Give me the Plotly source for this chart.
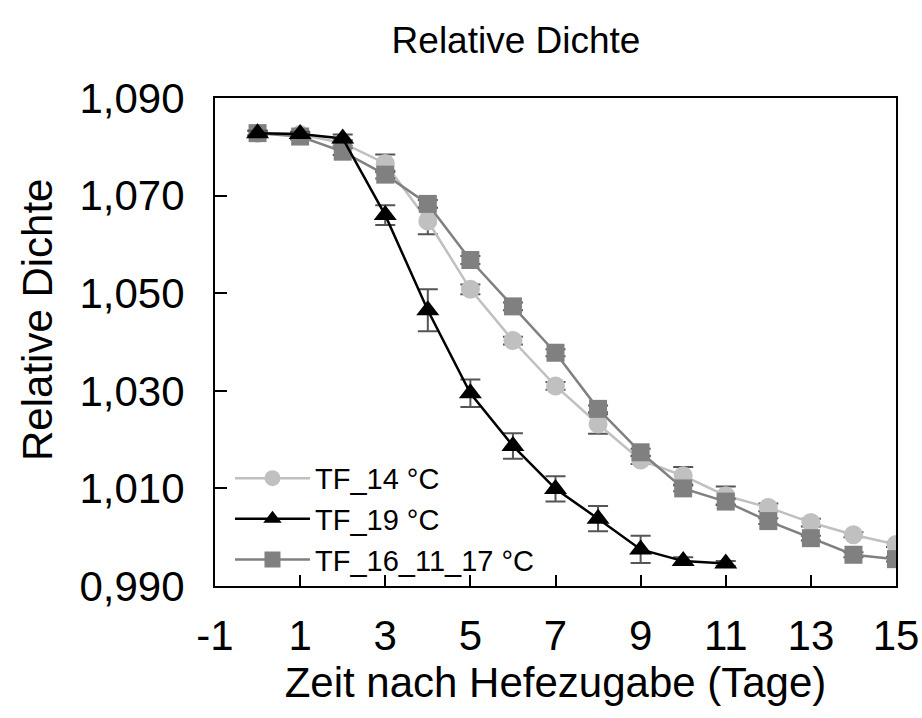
import plotly.graph_objects as go

# Data
days = [0, 1, 2, 3, 4, 5, 6, 7, 8, 9, 10, 11, 12, 13, 14, 15]
days_19 = [0, 1, 2, 3, 4, 5, 6, 7, 8, 9, 10, 11]

tf14 = [1.0828, 1.0825, 1.0808, 1.0766, 1.0648, 1.0508, 1.0403, 1.0310, 1.0232,
        1.0158, 1.0126, 1.0085, 1.0061, 1.0030, 1.0005, 0.9985]
tf14_err = [0.0005, 0.0005, 0.0006, 0.0018, 0.0027, 0.0010, 0.0008, 0.0008, 0.0020,
            0.0008, 0.0018, 0.0019, 0.0008, 0.0008, 0.0005, 0.0005]

tf19 = [1.0828, 1.0826, 1.0817, 1.0660, 1.0465, 1.0295, 1.0187, 1.0099, 1.0038,
        0.9975, 0.9951, 0.9946]
tf19_err = [0.0005, 0.0005, 0.0008, 0.0020, 0.0043, 0.0028, 0.0026, 0.0026, 0.0026,
            0.0028, 0.0008, 0.0005]

tf16 = [1.0828, 1.0821, 1.0790, 1.0743, 1.0683, 1.0568, 1.0473, 1.0378, 1.0263,
        1.0174, 1.0100, 1.0073, 1.0033, 0.9998, 0.9964, 0.9955]
tf16_err = [0.0005, 0.0006, 0.0007, 0.0008, 0.0008, 0.0008, 0.0008, 0.0007, 0.0007,
            0.0007, 0.0006, 0.0006, 0.0006, 0.0005, 0.0005, 0.0005]

names = ["TF_14 °C", "TF_19 °C", "TF_16_11_17 °C"]
x_ticks = [-1, 1, 3, 5, 7, 9, 11, 13, 15]
y_ticks = [0.99, 1.01, 1.03, 1.05, 1.07, 1.09]

FONT = "Liberation Sans, Arial, sans-serif"
ERR_COLOR = "#555555"
AX_FONT = 42

fig = go.Figure()

def err(vals):
    return dict(type="data", array=vals, visible=True, color=ERR_COLOR,
                thickness=2, width=10)

fig.add_trace(go.Scatter(
    x=days, y=tf14, name=names[0], mode="lines+markers", legendrank=1,
    line=dict(color="#C0C0C0", width=2.5),
    marker=dict(symbol="circle", size=19, color="#C0C0C0"),
    error_y=err(tf14_err)))

fig.add_trace(go.Scatter(
    x=days, y=tf16, name=names[2], mode="lines+markers", legendrank=3,
    line=dict(color="#808080", width=2.5),
    marker=dict(symbol="square", size=18, color="#808080"),
    error_y=err(tf16_err)))

fig.add_trace(go.Scatter(
    x=days_19, y=tf19, name=names[1], mode="lines+markers", legendrank=2,
    line=dict(color="#000000", width=2.5),
    marker=dict(symbol="triangle-up", size=20, color="#000000"),
    error_y=err(tf19_err)))

fig.update_layout(
    width=922, height=718,
    paper_bgcolor="white", plot_bgcolor="white",
    margin=dict(l=215, r=26, t=98, b=132, autoexpand=False),
    separators=",.",
    font=dict(family=FONT, color="black"),
    title=dict(text="Relative Dichte", x=516/922, xref="container", xanchor="center",
               y=1 - 40/718, yref="container", yanchor="middle",
               font=dict(size=37, family=FONT, color="black")),
    showlegend=True,
    legend=dict(x=0.022, y=0.273, xanchor="left", yanchor="top",
                bgcolor="rgba(0,0,0,0)", font=dict(size=29, family=FONT),
                itemwidth=75, tracegroupgap=0),
    xaxis=dict(range=[-1, 15], tickmode="array", tickvals=x_ticks,
               ticktext=[str(v) for v in x_ticks], automargin=False,
               showgrid=False, zeroline=False,
               showline=True, linecolor="black", linewidth=2, mirror=True,
               ticks="inside", ticklen=11, tickwidth=2, tickcolor="black",
               tickfont=dict(size=AX_FONT, family=FONT), ticklabelstandoff=12,
               title=dict(text="Zeit nach Hefezugabe (Tage)",
                          font=dict(size=AX_FONT, family=FONT), standoff=7)),
    yaxis=dict(range=[0.99, 1.09], tickmode="array", tickvals=y_ticks,
               tickformat=".3f", automargin=False,
               showgrid=False, zeroline=False,
               showline=True, linecolor="black", linewidth=2, mirror=True,
               ticks="inside", ticklen=12, tickwidth=2, tickcolor="black",
               tickfont=dict(size=AX_FONT, family=FONT), ticklabelstandoff=20),
)

fig.add_annotation(text="Relative Dichte", xref="paper", yref="paper",
                   x=-(215 - 37) / 681, y=(586 - 320) / 488,
                   xanchor="center", yanchor="middle", textangle=-90,
                   showarrow=False, font=dict(size=AX_FONT, family=FONT, color="black"))

fig.write_html("out.html")
